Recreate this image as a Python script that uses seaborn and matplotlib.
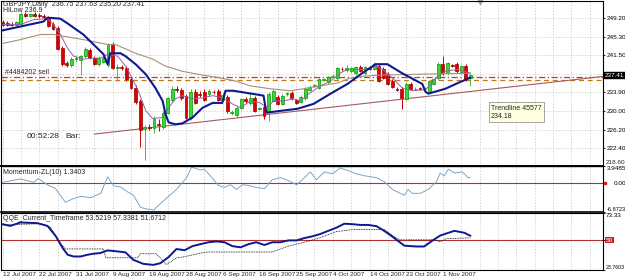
import matplotlib
matplotlib.use("Agg")
import matplotlib.pyplot as plt
import seaborn as sns
import numpy as np

# ---- price data (daily bars, GBPJPY) ----
opens = [248.4, 248.2, 247.9, 247.7, 247.9, 249.9, 249.6, 250.0, 249.8, 249.6,
         249.3, 247.9, 247.0, 242.9, 239.8, 239.4, 240.8, 240.6, 241.3, 242.5,
         241.0, 239.7, 240.2, 239.4, 243.7, 238.8, 239.1, 238.9, 236.6, 234.8,
         232.1, 226.3, 226.7, 226.6, 227.3, 226.8, 229.7, 232.2, 234.5, 234.4,
         233.2, 228.6, 234.0, 233.6, 234.0, 233.5, 234.0, 234.2, 232.3, 232.9,
         229.6, 229.2, 230.7, 232.5, 231.6, 232.8, 230.5, 230.9, 230.1, 232.1,
         233.0, 231.5, 233.6, 233.8, 232.2, 231.9, 232.7, 234.4, 235.2, 234.8,
         236.5, 235.9, 237.2, 236.8, 238.7, 238.4, 238.2, 237.8, 239.0, 237.8,
         238.8, 238.7, 239.2, 238.6, 237.6, 236.3, 234.6, 234.6, 232.5, 235.6,
         234.6, 234.7, 234.6, 234.0, 235.6, 236.8, 239.7, 237.8, 239.4, 239.6,
         238.0, 239.2, 236.75]
highs = [248.8, 248.6, 248.3, 248.6, 250.3, 250.4, 250.2, 250.4, 250.2, 250.0,
         249.6, 248.4, 247.4, 243.3, 240.3, 241.2, 241.3, 241.6, 243.1, 242.9,
         241.4, 241.3, 241.4, 244.0, 244.2, 239.6, 239.5, 239.3, 237.0, 235.3,
         232.5, 227.2, 227.3, 229.1, 228.5, 230.0, 233.0, 235.2, 235.2, 234.8,
         233.6, 234.6, 234.5, 234.2, 234.5, 234.6, 234.4, 234.6, 233.8, 233.3,
         230.3, 231.0, 232.8, 233.0, 234.0, 233.2, 230.9, 231.3, 234.0, 234.6,
         233.4, 233.6, 234.0, 234.2, 232.6, 233.3, 234.9, 235.4, 235.6, 236.9,
         236.9, 237.3, 237.6, 239.1, 239.0, 239.5, 239.1, 239.3, 239.4, 239.3,
         239.1, 240.2, 239.6, 239.0, 238.0, 236.7, 235.0, 235.0, 236.0, 236.0,
         235.0, 235.0, 234.9, 236.5, 236.9, 240.0, 241.3, 240.2, 239.7, 240.0,
         239.5, 239.6, 237.63]
lows = [247.5, 247.5, 247.4, 247.4, 247.7, 249.3, 249.3, 249.3, 249.2, 249.0,
        247.2, 246.6, 242.5, 239.3, 239.1, 239.0, 240.2, 237.4, 241.0, 240.7,
        239.4, 239.3, 239.8, 239.0, 238.6, 236.2, 238.5, 236.3, 234.5, 231.5,
        222.6, 220.0, 226.2, 225.6, 226.0, 226.4, 229.4, 231.9, 233.9, 232.4,
        228.4, 228.2, 231.4, 233.0, 232.0, 233.2, 233.5, 232.0, 232.0, 229.7,
        229.2, 228.9, 230.4, 231.7, 231.3, 229.8, 230.2, 228.5, 228.0, 231.8,
        231.2, 231.2, 233.2, 232.4, 231.4, 231.6, 232.4, 234.1, 234.9, 234.5,
        236.2, 235.6, 236.9, 236.5, 238.3, 238.1, 237.9, 237.5, 238.0, 237.5,
        238.4, 238.4, 235.9, 236.6, 235.3, 234.7, 234.1, 230.5, 232.2, 234.3,
        234.3, 234.3, 234.2, 233.7, 235.3, 236.5, 237.5, 237.5, 239.0, 237.9,
        237.7, 236.3, 235.20]
closes = [247.8, 247.8, 247.7, 248.3, 249.9, 249.6, 249.9, 249.6, 249.5, 249.3,
          247.5, 246.9, 242.8, 239.6, 239.4, 240.8, 240.9, 241.3, 242.7, 241.0,
          239.7, 241.0, 241.0, 243.7, 238.9, 239.1, 238.9, 236.6, 234.8, 231.8,
          226.1, 226.7, 226.6, 228.4, 227.1, 229.7, 232.7, 234.6, 234.4, 232.7,
          228.7, 234.0, 231.7, 233.4, 232.3, 234.2, 233.9, 232.3, 233.4, 230.0,
          229.9, 230.7, 232.5, 232.0, 232.8, 230.1, 230.6, 229.1, 233.6, 234.2,
          231.5, 233.2, 233.7, 232.7, 231.7, 233.0, 234.6, 235.0, 235.3, 236.6,
          236.6, 237.0, 237.3, 238.8, 238.6, 238.8, 238.8, 239.0, 238.3, 239.0,
          238.7, 239.7, 236.2, 236.9, 235.6, 235.0, 234.4, 232.7, 235.6, 234.6,
          234.6, 234.6, 234.6, 236.2, 236.6, 239.7, 237.8, 239.8, 239.3, 238.2,
          239.2, 236.6, 237.41]

date_labels = ["12 Jul 2007", "22 Jul 2007", "31 Jul 2007", "9 Aug 2007", "19 Aug 2007",
               "28 Aug 2007", "6 Sep 2007", "16 Sep 2007", "25 Sep 2007", "4 Oct 2007",
               "14 Oct 2007", "23 Oct 2007", "1 Nov 2007"]
date_bars = [0, 8, 16, 24, 32, 40, 48, 56, 64, 72, 80, 88, 96]

# HiLo line (thick navy)
hilo_bars = [0, 8.9, 9.8, 12.6, 14.2, 17.6, 20.7, 22.0, 22.9, 23.5, 25.7, 26.8, 29.0, 31.2,
             33.3, 34.9, 35.5, 36.2, 37.7, 39.2, 41.4, 43.6, 45.8, 47.9, 48.6, 50.3, 56.9,
             57.5, 64.3, 67.8, 71.5, 75.2, 78.4, 81.3, 83.9, 87.1, 91.5, 92.2, 92.8, 96.5,
             99.3, 102]
hilo_vals = [246.6, 248.4, 249.2, 249.0, 248.0, 245.75, 242.9, 241.7, 239.65, 241.9, 241.9,
             241.3, 239.65, 237.6, 234.8, 232.1, 229.5, 227.7, 227.3, 227.5, 228.7, 230.7,
             231.7, 231.7, 234.2, 234.2, 233.2, 229.7, 230.5, 231.5, 233.6, 235.6, 237.8,
             239.65, 239.65, 237.8, 235.6, 234.0, 233.6, 234.6, 235.8, 236.9]

# fast MA (thin purple)
fast_bars = [0, 3.9, 6.8, 9.8, 11.1, 12.6, 14.2, 15.5, 17.6, 19.8, 21.4, 22.9, 25.1, 27.2,
             28.5, 29.6, 31.2, 32.7, 34.9, 36.2, 37.7, 39.2, 41.4, 43.6, 45.8, 47.9, 50.1,
             51.9, 54.0, 56.2, 57.7, 59.0, 61.2, 63.4, 64.9, 67.1, 69.3, 71.5, 73.6, 75.2,
             79.1, 81.3, 82.8, 85.0, 87.1, 89.3, 92.2, 94.3, 96.5, 99.3, 102]
fast_vals = [247.8, 247.8, 248.8, 249.0, 247.8, 245.75, 242.9, 241.3, 240.7, 240.9, 240.9,
             241.7, 241.3, 238.8, 236.2, 234.2, 230.1, 228.5, 228.7, 230.7, 232.55, 233.2,
             232.55, 232.75, 233.2, 232.75, 231.5, 230.7, 232.1, 231.7, 230.7, 232.1, 232.1,
             232.55, 232.1, 233.8, 235.2, 236.2, 237.8, 238.6, 238.6, 239.25, 238.6, 236.8,
             234.8, 234.2, 234.4, 236.6, 238.2, 238.6, 237.8]

# slow MA (tan)
slow_bars = [0, 3.9, 8.3, 11.1, 17.6, 22.9, 24.6, 29.0, 32.7, 35.5, 39.2, 43.6, 46.4, 50.8,
             54.0, 58.4, 62.7, 65.6, 69.3, 73.0, 75.8, 79.1, 81.9, 91.1, 102]
slow_vals = [243.9, 244.7, 245.75, 245.75, 244.7, 243.7, 243.7, 241.9, 240.7, 239.25, 238.2,
             237.4, 237.0, 236.2, 235.2, 234.6, 234.2, 234.6, 235.2, 235.8, 236.8, 237.2,
             237.4, 237.6, 237.8]

trend_bars = [20, 131]
trend_vals = [225.3, 237.15]
order_levels = [237.0, 236.45]

# Momentum-ZL(10)
mom_bars = [0, 3.9, 6.8, 7.8, 9.8, 11.5, 13.7, 15.25, 17.0, 19.2, 21.4, 22.9, 24.2, 25.7,
            27.2, 28.5, 30.1, 31.6, 32.9, 34.4, 37.9, 40.1, 41.2, 43.1, 44.0, 44.9, 47.1,
            48.4, 49.7, 51.0, 52.3, 53.6, 55.3, 57.1, 58.8, 60.6, 61.9, 64.1, 65.8, 67.1,
            68.4, 70.2, 71.9, 73.6, 75.4, 77.1, 78.9, 81.5, 83.2, 85.0, 86.7, 87.6, 88.4,
            89.3, 91.1, 92.8, 94.6, 95.4, 96.3, 97.2, 98.5, 100.2, 101.5, 102]
mom_vals = [0.1, 0.9, 0.1, 1.0, -0.5, -1.3, -4.6, -3.8, -3.2, -3.5, -2.5, 1.4, -0.7, -1.0,
            -2.1, -2.9, -5.8, -6.2, -6.4, -4.9, -1.56, 1.19, 3.67, 3.03, 3.21, 2.11,
            -0.64, -1.1, -0.46, -1.56, -0.46, -0.64, -1.1, -1.38, 0.73, 1.19, 0.73, -0.46,
            1.19, 2.57, 0.73, 2.57, 2.11, 3.49, 2.84, 2.11, 1.65, 1.19, 0.28, -1.56, -2.48,
            -2.94, -1.56, -2.48, -2.48, -1.56, 0.28, 2.29, 1.65, 3.21, 2.29, 2.57, 1.19, 1.34]

# QQE
qqe_bars = [0, 1.7, 3.9, 7.6, 9.8, 11.6, 13.1, 14.2, 15.5, 17.0, 18.5, 19.8, 21.3, 22.9,
            25.1, 26.8, 28.5, 30.7, 32.9, 34.4, 36.2, 37.9, 39.7, 41.4, 43.1, 44.9, 46.6,
            48.4, 50.1, 51.9, 53.6, 55.3, 57.1, 58.8, 60.6, 62.3, 64.1, 65.8, 67.5, 69.3,
            71.0, 72.8, 74.5, 76.3, 78.0, 79.7, 81.5, 83.2, 85.0, 86.7, 87.6, 90.2, 91.9,
            93.7, 95.4, 97.2, 98.5, 100.7, 102]
qqe_vals = [63.6, 62.1, 65.1, 64.5, 62.1, 53.2, 42.9, 37.0, 35.5, 35.5, 37.0, 37.9, 38.5,
            40.8, 39.9, 39.1, 32.6, 29.1, 28.2, 29.7, 35.0, 42.0, 41.0, 44.5, 46.2, 47.9,
            48.6, 47.9, 44.5, 43.5, 46.2, 47.9, 45.5, 47.9, 47.9, 49.5, 49.5, 51.5, 53.0,
            55.1, 57.8, 60.6, 64.0, 63.6, 62.95, 62.95, 61.9, 57.8, 52.7, 47.6, 44.9, 44.2,
            44.2, 49.3, 53.7, 56.1, 57.8, 56.1, 53.5]
trail_bars = [0, 8.3, 10.5, 12.0, 13.7, 22.0, 22.5, 29.4, 30.0, 33.5, 35.7, 37.9, 39.7, 43.1,
              44.9, 58.8, 62.3, 65.8, 69.3, 72.8, 76.3, 83.2, 85.4, 86.7, 94.1, 95.4, 96.7, 102]
trail_vals = [63.0, 64.0, 60.7, 50.0, 42.1, 42.1, 34.4, 34.4, 37.9, 37.9, 28.5, 34.3, 35.3,
              38.4, 39.4, 39.4, 44.5, 47.9, 52.0, 57.2, 58.9, 58.9, 52.7, 50.0, 50.0, 48.3,
              51.0, 51.7]

# ---- figure ----
sns.set_style("white")
plt.rcParams['font.family'] = ['Liberation Sans Narrow', 'Liberation Sans', 'DejaVu Sans']
W, H = 625, 280
fig = plt.figure(figsize=(W / 100, H / 100), dpi=100)


def fr(x0, y0, x1, y1):
    return [x0 / W, 1 - y1 / H, (x1 - x0) / W, (y1 - y0) / H]


ax = fig.add_axes(fr(0.5, 0.5, 603, 165.5))
axm = fig.add_axes(fr(0.5, 166, 603, 212), sharex=ax)
axq = fig.add_axes(fr(0.5, 213, 603, 270), sharex=ax)

grid_kw = dict(color="#c8c8c8", linestyle=(0, (1.5, 2)), linewidth=0.6)
xgrid = np.arange(0, 132, 4)
for a in (ax, axm, axq):
    for s in a.spines.values():
        s.set_color("black")
        s.set_linewidth(0.8)
    a.yaxis.tick_right()
    a.tick_params(axis="y", length=1.5, width=0.6, labelsize=4.6, pad=1, colors="black")
    a.tick_params(axis="x", length=0)
    for gx in xgrid:
        a.axvline(gx, zorder=0, **grid_kw)
ax.spines["bottom"].set_linewidth(1.4)
axm.spines["top"].set_linewidth(1.0)
axm.spines["bottom"].set_linewidth(1.2)
axq.tick_params(axis="y", pad=0.5)

idx = np.arange(len(closes))
o = np.array(opens); c = np.array(closes); h = np.array(highs); l = np.array(lows)
up = c >= o
wick_cols = np.where(up, "#4cb84c", "#cc0000")
ax.vlines(idx, l, h, colors=wick_cols, linewidth=0.7, zorder=2)
body_b = np.minimum(o, c)
body_h = np.maximum(np.abs(c - o), 0.06)
ax.bar(idx[up], body_h[up], bottom=body_b[up], width=0.62, color="#33dd33",
       edgecolor="#009900", linewidth=0.5, zorder=3)
ax.bar(idx[~up], body_h[~up], bottom=body_b[~up], width=0.62, color="#dd0000",
       edgecolor="#990000", linewidth=0.5, zorder=3)

sns.lineplot(x=slow_bars, y=slow_vals, ax=ax, color="#a89078", linewidth=0.8, sort=False, zorder=4)
sns.lineplot(x=fast_bars, y=fast_vals, ax=ax, color="#9a5fa8", linewidth=0.7, sort=False, zorder=4)
sns.lineplot(x=hilo_bars, y=hilo_vals, ax=ax, color="#101890", linewidth=1.5, sort=False, zorder=5)
sns.lineplot(x=trend_bars, y=trend_vals, ax=ax, color="#a85a5a", linewidth=0.8, sort=False, zorder=2)
ax.axhline(order_levels[0], color="#c83c10", linewidth=0.9, linestyle=(0, (5, 2, 1, 2)), zorder=1)
ax.axhline(order_levels[1], color="#c07818", linewidth=0.9, linestyle=(0, (4, 3)), zorder=1)

price_ticks = [249.2, 245.3, 241.5, 233.9, 230.0, 226.2, 222.4]
ax.set_ylim(218.85, 252.73)
ax.set_yticks(price_ticks)
ax.set_yticklabels([f"{v:.2f}" for v in price_ticks])
for v in price_ticks + [237.7]:
    ax.axhline(v, zorder=0, **grid_kw)
ax.set_xlim(-0.45, 130.9)
ax.text(1.005, 0.004, "218.60", transform=ax.transAxes, fontsize=4.6, va="bottom", ha="left")
ax.text(1.003, closes[-1], f"{closes[-1]:.2f}", transform=ax.get_yaxis_transform(), fontsize=4.6,
        color="white", va="center", ha="left",
        bbox=dict(boxstyle="square,pad=0.12", fc="black", ec="black"))
ax.plot([104.1], [252.5], marker="v", color="#a0a0a0", markersize=3, clip_on=False)

# momentum
axm.axhline(0, color="#b03030", linewidth=0.8, zorder=1)
sns.lineplot(x=mom_bars, y=mom_vals, ax=axm, color="#7aa6c8", linewidth=0.7, sort=False)
axm.set_ylim(-6.8723, 3.9485)
axm.set_yticks([3.9485, 0.0, -6.8723])
axm.set_yticklabels(["3.9485", "0.00", "-6.8723"])
mlabels = axm.get_yticklabels()
mlabels[0].set_va("top")
mlabels[1].set_x(1.012)
mlabels[2].set_va("bottom")
mlabels[2].set_fontsize(4.1)
axm.plot([1.004], [0], marker="s", color="#cc2020", markersize=2.0,
         transform=axm.get_yaxis_transform(), clip_on=False)

# QQE
axq.axhline(50, color="#b03030", linewidth=0.8, zorder=1)
sns.lineplot(x=trail_bars, y=trail_vals, ax=axq, color="black", linewidth=0.6,
             linestyle=(0, (1, 1)), sort=False)
sns.lineplot(x=qqe_bars, y=qqe_vals, ax=axq, color="#101890", linewidth=1.4, sort=False)
axq.set_ylim(23.7603, 73.33)
axq.set_yticks([73.33, 50, 23.7603])
axq.set_yticklabels(["73.33", "50", "23.7603"])
qlabels = axq.get_yticklabels()
qlabels[0].set_va("top")
qlabels[2].set_va("bottom")
qlabels[2].set_fontsize(3.8)
qlabels[1].set_color("white")
qlabels[1].set_bbox(dict(boxstyle="square,pad=0.1", fc="#cc2020", ec="none"))

for a in (ax, axm):
    a.tick_params(axis="x", labelbottom=False)
axq.set_xticks(date_bars)
axq.set_xticklabels(date_labels, fontsize=4.6, ha="left")
axq.tick_params(axis="x", pad=1.5)
for a in (ax, axm, axq):
    a.set_xlabel("")
    a.set_ylabel("")

# texts
def ftext(x, y, s, size=5):
    fig.text(x / W, 1 - y / H, s, fontsize=size, va="center", ha="left")

ftext(3, 5, "GBPJPY,Daily  236.75 237.63 235.20 237.41")
ftext(3, 11, "HiLow 236.9")
ftext(5, 73, "#4484202 sell")
ftext(27, 136, "00:52:28", size=6)
ftext(65, 136, "Bar:", size=6)
ftext(3, 173, "Momentum-ZL(10) 1.3403")
ftext(3, 219, "QQE_Current_Timeframe 53.5219 57.3381 51.6712")
fig.text(491 / W, 1 - 112 / H, "Trendline 45577\n234.18", fontsize=5, va="center", ha="left",
         linespacing=1.2, bbox=dict(boxstyle="square,pad=0.3", fc="#ffffe1", ec="#808080", lw=0.5))

fig.savefig("out.png", dpi=100)
